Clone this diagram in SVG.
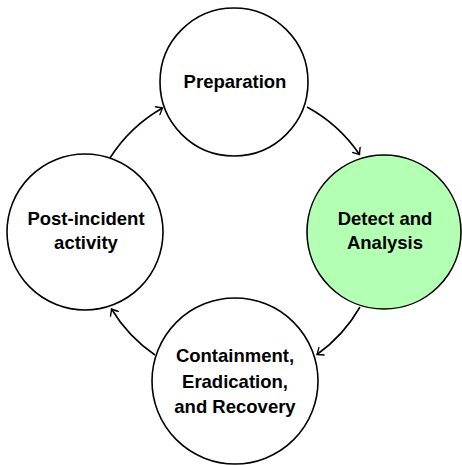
<svg xmlns="http://www.w3.org/2000/svg" width="462" height="465" viewBox="0 0 462 465">
<defs>
<style>
.node{fill:#ffffff;stroke:#000;stroke-width:1.6}
.hl{fill:#b3ffb3}
.lbl{font-family:"Liberation Sans",Arial,Helvetica,sans-serif;font-weight:bold;font-size:18.5px;fill:#000;text-anchor:middle}
.edge{fill:none;stroke:#000;stroke-width:1.6}
</style>
<marker id="arr" markerUnits="userSpaceOnUse" markerWidth="14" markerHeight="14" refX="0" refY="0" viewBox="-8 -7 10 14" orient="auto" overflow="visible">
<path d="M-5.5,-4.5 Q-1.5,-1 0,0 Q-1.5,1 -5.5,4.5" fill="none" stroke="#000" stroke-width="1.4" stroke-linecap="round"/>
</marker>
</defs>
<rect width="462" height="465" fill="#ffffff"/>
<g id="connectors">
<path class="edge" d="M307,107 A150,150 0 0 1 359.5,154.5" marker-end="url(#arr)"/>
<path class="edge" d="M360,307 A150,150 0 0 1 317,354.5" marker-end="url(#arr)"/>
<path class="edge" d="M155,355 A150,150 0 0 1 111.5,309" marker-end="url(#arr)"/>
<path class="edge" d="M110,158 A150,150 0 0 1 162.5,108" marker-end="url(#arr)"/>
</g>
<g id="preparation">
<circle class="node" cx="234" cy="82" r="74"/>
<text class="lbl" x="235" y="87.5">Preparation</text>
</g>
<g id="detect">
<circle class="node hl" cx="384" cy="232" r="77"/>
<text class="lbl" x="385" y="225">Detect and</text>
<text class="lbl" x="385" y="249">Analysis</text>
</g>
<g id="containment">
<circle class="node" cx="235" cy="381" r="83"/>
<text class="lbl" x="235" y="362">Containment,</text>
<text class="lbl" x="235" y="387.5">Eradication,</text>
<text class="lbl" x="235" y="413">and Recovery</text>
</g>
<g id="postincident">
<circle class="node" cx="85" cy="232" r="78"/>
<text class="lbl" x="86" y="225">Post-incident</text>
<text class="lbl" x="86" y="249">activity</text>
</g>
</svg>
